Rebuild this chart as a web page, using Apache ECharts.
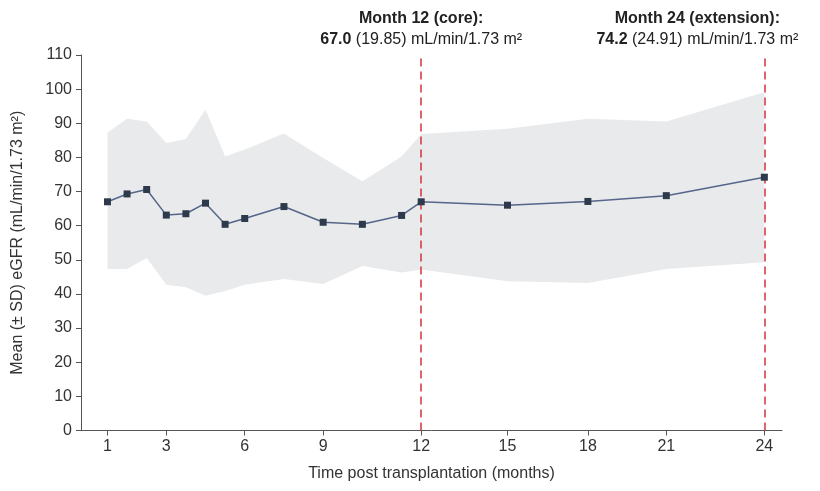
<!DOCTYPE html>
<html>
<head>
<meta charset="utf-8">
<script src="https://cdn.jsdelivr.net/npm/echarts@6/dist/echarts.min.js"></script>
<style>
  html, body { margin: 0; padding: 0; background: #fff; }
  #chart { width: 820px; height: 491px; }
</style>
</head>
<body>
<div id="chart"></div>
<script>
// x positions on the plot's visit scale (one unit = one early visit step)
var xPos = [0, 1, 2, 3, 4, 5, 6, 7, 9, 11, 13, 15, 16, 20.4, 24.5, 28.5, 33.5];
var meanVals = [67.0, 69.3, 70.6, 63.1, 63.5, 66.6, 60.4, 62.1, 65.6, 61.0, 60.4, 63.0, 67.0, 66.0, 67.1, 68.8, 74.2];
var upperVals = [87.3, 91.3, 90.5, 84.2, 85.4, 94.0, 80.3, 82.3, 87.0, 79.8, 73.0, 80.3, 86.85, 88.4, 91.3, 90.5, 99.1];
var lowerVals = [47.3, 47.3, 50.5, 42.7, 42.0, 39.5, 40.9, 42.7, 44.4, 42.9, 48.2, 46.3, 47.15, 43.7, 43.2, 47.3, 49.3];

// month ticks and where they sit on the axis
var tickPos = [0, 3, 7, 11, 16, 20.4, 24.5, 28.5, 33.5];
var tickLabels = ['1', '3', '6', '9', '12', '15', '18', '21', '24'];

var fontFamily = "'Liberation Sans', Arial, sans-serif";

function pairs(ys) {
    return xPos.map(function (x, i) { return [x, ys[i]]; });
}

// SD band: one polygon built from upper and lower bounds
var bandData = xPos.map(function (x, i) { return [x, lowerVals[i], upperVals[i]]; });

function renderBand(params, api) {
    if (params.dataIndex !== 0) return null;
    var top = [], bottom = [];
    for (var i = 0; i < bandData.length; i++) {
        top.push(api.coord([bandData[i][0], bandData[i][2]]));
        bottom.push(api.coord([bandData[i][0], bandData[i][1]]));
    }
    return {
        type: 'polygon',
        shape: { points: top.concat(bottom.reverse()) },
        style: { fill: '#e9eaec' },
        silent: true
    };
}

var chart = echarts.init(document.getElementById('chart'));

chart.setOption({
    animation: false,
    textStyle: { fontFamily: fontFamily },
    grid: { left: 81, right: 38, top: 55, bottom: 60.5, containLabel: false },
    xAxis: {
        type: 'value',
        min: -1.35,
        max: 34.4,
        name: 'Time post transplantation (months)',
        nameLocation: 'middle',
        nameGap: 35,
        nameTextStyle: { fontSize: 16, color: '#333', fontFamily: fontFamily },
        axisLine: { onZero: false, lineStyle: { color: '#555', width: 1 } },
        axisTick: { show: true, length: 5, customValues: tickPos, lineStyle: { color: '#555' } },
        axisLabel: {
            customValues: tickPos,
            fontSize: 16,
            color: '#333',
            margin: 8,
            formatter: function (v) {
                var i = tickPos.indexOf(v);
                return i >= 0 ? tickLabels[i] : '';
            }
        },
        splitLine: { show: false }
    },
    yAxis: {
        type: 'value',
        min: 0,
        max: 110,
        interval: 10,
        name: 'Mean (± SD) eGFR (mL/min/1.73 m²)',
        nameLocation: 'middle',
        nameGap: 55,
        nameTextStyle: { fontSize: 16, color: '#333', fontFamily: fontFamily },
        axisLine: { show: true, onZero: false, lineStyle: { color: '#555', width: 1 } },
        axisTick: { show: true, length: 5, lineStyle: { color: '#555' } },
        axisLabel: { fontSize: 16, color: '#333', margin: 9 },
        splitLine: { show: false }
    },
    series: [
        {
            name: 'band',
            type: 'custom',
            renderItem: renderBand,
            data: bandData,
            encode: { x: 0, y: [1, 2] },
            silent: true,
            z: 1
        },
        {
            name: 'mean',
            type: 'line',
            data: pairs(meanVals),
            symbol: 'rect',
            symbolSize: 7,
            itemStyle: { color: '#2d3a4b' },
            lineStyle: { color: '#56668a', width: 1.5 },
            z: 5,
            markLine: {
                silent: true,
                symbol: ['none', 'none'],
                lineStyle: { color: '#d6323e', type: [8, 5], width: 1.5 },
                label: {
                    show: true,
                    position: 'end',
                    distance: 5,
                    align: 'center',
                    color: '#222',
                    rich: {
                        b: { fontSize: 16, fontWeight: 'bold', color: '#222', fontFamily: fontFamily, lineHeight: 21 },
                        n: { fontSize: 16, color: '#222', fontFamily: fontFamily, lineHeight: 21 }
                    }
                },
                data: [
                    {
                        xAxis: tickPos[4],
                        label: {
                            formatter: '{b|Month 12 (core):}\n{b|67.0}{n| (19.85) mL/min/1.73 m²}'
                        }
                    },
                    {
                        xAxis: tickPos[8],
                        label: {
                            offset: [-67, 0],
                            formatter: '{b|Month 24 (extension):}\n{b|74.2}{n| (24.91) mL/min/1.73 m²}'
                        }
                    }
                ]
            }
        }
    ]
});
</script>
</body>
</html>
